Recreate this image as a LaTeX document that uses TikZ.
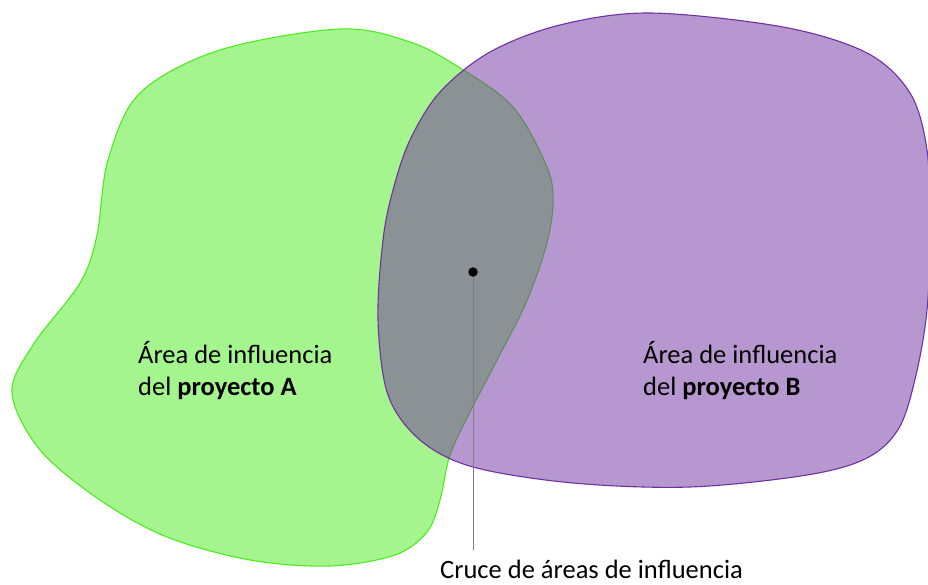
\documentclass[tikz,border=0pt]{standalone}
\usepackage{fontspec}
\setmainfont{Carlito}
\definecolor{gA}{RGB}{75,235,29}
\definecolor{pB}{RGB}{112,48,160}
\definecolor{leader}{RGB}{128,128,128}
\begin{document}
\begin{tikzpicture}[x=1pt,y=-1pt,
  blobA/.style={draw=gA, fill=gA, fill opacity=0.5, line width=1.1pt},
  blobB/.style={draw=pB, fill=pB, fill opacity=0.5, line width=1.1pt},
  lbl/.style={inner sep=0pt, anchor=base west, align=left, font=\fontsize{26.5}{32}\selectfont},
  leaderline/.style={draw=leader, line width=0.9pt},
  dotnode/.style={circle, fill=black, inner sep=0pt, minimum size=9.5pt}]
\useasboundingbox (0,0) rectangle (928,585);
% area A
\draw[blobA] plot[smooth cycle, tension=0.55] coordinates {
 (340,29) (410,42) (460,68) (513,107) (547,167) (553,205) (545,250)
 (525,305) (497,360) (470,412) (450,455) (440,500) (427,532) (395,555)
 (330,566) (250,560) (167,537) (100,500) (40,450) (12,393) (33,345)
 (80,283) (97,235) (108,160) (140,93) (220,50)};
% area B
\draw[blobB] plot[smooth cycle, tension=0.55] coordinates {
 (650,13) (783,27) (867,53) (910,93) (927,150) (930,230) (927,310)
 (916,375) (899,428) (867,458) (807,475) (690,487) (573,483) (473,467)
 (420,440) (388,395) (378,320) (383,240) (393,190) (410,140) (440,92)
 (490,52) (560,25)};
\node[dotnode] (dot) at (473,272) {};
\coordinate (lineend) at (473,550);
\draw[leaderline] (dot) -- (lineend);
\node[lbl] (labA) at (138,395) {Área de influencia\\del \textbf{proyecto A}};
\node[lbl] (labB) at (643,395) {Área de influencia\\del \textbf{proyecto B}};
\node[lbl] (cross) at (440,578) {Cruce de áreas de influencia};
\end{tikzpicture}
\end{document}
